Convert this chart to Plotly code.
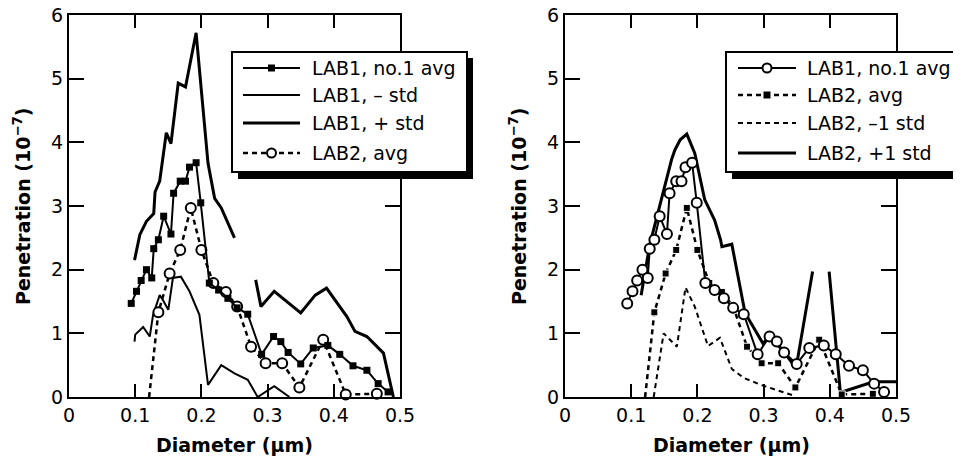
import plotly.graph_objects as go

# ---------------- data ----------------
lab1_avg_d = [0.094, 0.102, 0.109, 0.117, 0.125, 0.128, 0.135, 0.143, 0.154, 0.158, 0.168, 0.176,
              0.182, 0.192, 0.199, 0.212, 0.226, 0.240, 0.254, 0.270, 0.291, 0.309, 0.320, 0.331,
              0.350, 0.369, 0.391, 0.409, 0.429, 0.450, 0.467, 0.482]
lab1_avg_v = [1.47, 1.66, 1.83, 2.00, 1.87, 2.33, 2.47, 2.84, 2.56, 3.20, 3.39, 3.39,
              3.61, 3.68, 3.05, 1.79, 1.68, 1.55, 1.40, 1.30, 0.67, 0.95, 0.87, 0.70,
              0.52, 0.77, 0.81, 0.67, 0.49, 0.42, 0.21, 0.08]

lab2_avg_d = [0.121, 0.135, 0.152, 0.168, 0.184, 0.200, 0.218, 0.237, 0.254, 0.275, 0.297,
              0.322, 0.348, 0.384, 0.418, 0.465]
lab2_avg_v = [0.00, 1.33, 1.94, 2.31, 2.97, 2.31, 1.79, 1.65, 1.42, 0.79, 0.53,
              0.53, 0.15, 0.90, 0.04, 0.05]

lab1_minus_d = [0.099, 0.100, 0.112, 0.122, 0.127, 0.137, 0.142, 0.150, 0.157, 0.169, 0.182,
                0.197, 0.210, 0.230, 0.250, 0.270, 0.285, 0.310, 0.333]
lab1_minus_v = [0.87, 0.98, 1.10, 0.95, 1.29, 1.60, 1.52, 1.37, 1.87, 1.89, 1.66,
                1.29, 0.19, 0.50, 0.37, 0.27, 0.00, 0.17, 0.00]

lab1_plus_d = [0.099, 0.107, 0.117, 0.128, 0.130, 0.137, 0.147, 0.154, 0.165, 0.176, 0.192,
               0.210, 0.220, 0.230, 0.250, None, 0.282, 0.290, 0.310, 0.350, 0.372, 0.389,
               0.420, 0.432, 0.450, 0.475, 0.490]
lab1_plus_v = [2.15, 2.55, 2.76, 2.88, 3.22, 3.39, 4.15, 3.98, 4.93, 4.87, 5.72,
               3.67, 3.12, 2.97, 2.50, None, 1.84, 1.42, 1.66, 1.32, 1.60, 1.71,
               1.26, 1.03, 0.95, 0.69, 0.00]

lab2_minus_d = [0.134, 0.149, 0.169, 0.182, 0.196, 0.216, 0.234, 0.252, 0.270, 0.296, 0.346]
lab2_minus_v = [0.00, 1.00, 0.79, 1.72, 1.42, 0.80, 0.93, 0.44, 0.30, 0.19, 0.02]

lab2_plus_d = [0.115, 0.128, 0.161, 0.166, 0.174, 0.184, 0.196, 0.211, 0.226, 0.235, 0.237,
               0.252, 0.272, 0.299, 0.309, 0.330, 0.349, 0.374, None, 0.399, 0.416, 0.466, 0.500]
lab2_plus_v = [1.60, 2.39, 3.73, 3.88, 4.04, 4.13, 3.83, 3.10, 2.78, 2.47, 2.36,
               2.40, 1.32, 0.84, 0.95, 0.72, 0.45, 1.97, None, 1.97, 0.07, 0.24, 0.24]

x_tick_vals = [0, 0.1, 0.2, 0.3, 0.4, 0.5]
x_tick_text = ["0", "0.1", "0.2", "0.3", "0.4", "0.5"]
y_tick_vals = [0, 1, 2, 3, 4, 5, 6]
y_tick_text = ["0", "1", "2", "3", "4", "5", "6"]

left_legend = ["LAB1, no.1 avg", "LAB1, \u2013 std", "LAB1, + std", "LAB2, avg"]
right_legend = ["LAB1, no.1 avg", "LAB2, avg", "LAB2, \u20131 std", "LAB2, +1 std"]

x_title = "<b>Diameter (\u00b5m)</b>"
y_title = "<b>Penetration (10<sup>\u22127</sup>)</b>"

# ---------------- figure ----------------
OFF = 8                      # page body margin of the html page
W, H = 961 - OFF, 462 - OFF  # figure size
FONT = "DejaVu Sans"
DASH = "5px,4px"


def px(x):
    """page pixel x -> paper fraction"""
    return (x - OFF) / W


def py(y):
    """page pixel y -> paper fraction"""
    return 1 - (y - OFF) / H


fig = go.Figure()

# left panel
fig.add_trace(go.Scatter(x=lab1_minus_d, y=lab1_minus_v, mode="lines",
                         line=dict(color="black", width=2), xaxis="x", yaxis="y"))
fig.add_trace(go.Scatter(x=lab1_plus_d, y=lab1_plus_v, mode="lines",
                         line=dict(color="black", width=3), xaxis="x", yaxis="y"))
fig.add_trace(go.Scatter(x=lab2_avg_d, y=lab2_avg_v, mode="lines+markers", cliponaxis=False,
                         line=dict(color="black", width=2.5, dash=DASH),
                         marker=dict(symbol="circle", size=[0] + [10] * (len(lab2_avg_d) - 1),
                                     opacity=1, color="white", line=dict(color="black", width=2)),
                         xaxis="x", yaxis="y"))
fig.add_trace(go.Scatter(x=lab1_avg_d, y=lab1_avg_v, mode="lines+markers", cliponaxis=False,
                         line=dict(color="black", width=2),
                         marker=dict(symbol="square", size=7, color="black", opacity=1),
                         xaxis="x", yaxis="y"))

# right panel
fig.add_trace(go.Scatter(x=lab2_minus_d, y=lab2_minus_v, mode="lines",
                         line=dict(color="black", width=2, dash=DASH), xaxis="x2", yaxis="y2"))
fig.add_trace(go.Scatter(x=lab2_plus_d, y=lab2_plus_v, mode="lines",
                         line=dict(color="black", width=3), xaxis="x2", yaxis="y2"))
fig.add_trace(go.Scatter(x=lab2_avg_d, y=lab2_avg_v, mode="lines+markers", cliponaxis=False,
                         line=dict(color="black", width=2.5, dash=DASH),
                         marker=dict(symbol="square", size=[0] + [7] * (len(lab2_avg_d) - 1),
                                     opacity=1, color="black"),
                         xaxis="x2", yaxis="y2"))
fig.add_trace(go.Scatter(x=lab1_avg_d, y=lab1_avg_v, mode="lines+markers", cliponaxis=False,
                         line=dict(color="black", width=2),
                         marker=dict(symbol="circle", size=10, color="white", opacity=1,
                                     line=dict(color="black", width=2)),
                         xaxis="x2", yaxis="y2"))

xaxis_common = dict(range=[0, 0.5], tickvals=x_tick_vals, ticktext=x_tick_text,
                    ticks="inside", ticklen=13, tickwidth=2, tickcolor="black",
                    showline=True, linecolor="black", linewidth=2, mirror="ticks",
                    showgrid=False, zeroline=False, automargin=False,
                    ticklabeloverflow="allow",
                    tickfont=dict(family=FONT, size=19, color="black"))
yaxis_common = dict(range=[0, 6], tickvals=y_tick_vals, ticktext=y_tick_text,
                    ticks="inside", ticklen=15, tickwidth=2, tickcolor="black",
                    showline=True, linecolor="black", linewidth=2, mirror="ticks",
                    showgrid=False, zeroline=False, automargin=False,
                    ticklabeloverflow="allow",
                    tickfont=dict(family=FONT, size=19, color="black"))

ydom = [py(397), py(15)]
fig.update_layout(
    width=W, height=H, autosize=False,
    margin=dict(l=0, r=0, t=0, b=0, pad=0),
    paper_bgcolor="white", plot_bgcolor="white",
    showlegend=False,
    xaxis=dict(domain=[px(69), px(400)], anchor="y", **xaxis_common),
    yaxis=dict(domain=ydom, anchor="x", **yaxis_common),
    xaxis2=dict(domain=[px(565), px(896)], anchor="y2", **xaxis_common),
    yaxis2=dict(domain=ydom, anchor="x2", **yaxis_common),
)

shapes = []
annotations = []


def add_legend(box, sample_x, text_x, rows, labels, styles):
    x0, y0, x1, y1 = box
    shapes.append(dict(type="rect", xref="paper", yref="paper", layer="above",
                       x0=px(x0 + 6), x1=px(x1 + 6), y0=py(y1 + 7), y1=py(y0 + 6),
                       fillcolor="black", line=dict(width=0)))
    shapes.append(dict(type="rect", xref="paper", yref="paper", layer="above",
                       x0=px(x0), x1=px(x1), y0=py(y1), y1=py(y0),
                       fillcolor="white", line=dict(color="black", width=2)))
    sx0, sx1 = sample_x
    mx = (sx0 + sx1) / 2
    for yrow, lab, st in zip(rows, labels, styles):
        lw, dash, mk = st
        shapes.append(dict(type="line", xref="paper", yref="paper", layer="above",
                           x0=px(sx0), x1=px(sx1), y0=py(yrow), y1=py(yrow),
                           line=dict(color="black", width=lw, dash=dash)))
        if mk == "square":
            shapes.append(dict(type="rect", xref="paper", yref="paper", layer="above",
                               xsizemode="pixel", ysizemode="pixel",
                               xanchor=px(mx), yanchor=py(yrow),
                               x0=-3.5, x1=3.5, y0=-3.5, y1=3.5,
                               fillcolor="black", line=dict(width=0)))
        elif mk == "circle":
            shapes.append(dict(type="circle", xref="paper", yref="paper", layer="above",
                               xsizemode="pixel", ysizemode="pixel",
                               xanchor=px(mx), yanchor=py(yrow),
                               x0=-4.5, x1=4.5, y0=-4.5, y1=4.5,
                               fillcolor="white", line=dict(color="black", width=2)))
        annotations.append(dict(xref="paper", yref="paper", x=px(text_x), y=py(yrow),
                                xanchor="left", yanchor="middle", showarrow=False,
                                text=lab, font=dict(family=FONT, size=19, color="black")))


rows = [68, 95, 123, 153]
add_legend((232, 52, 467, 172), (243, 300), 310, rows, left_legend,
           [(2, "solid", "square"), (2, "solid", None), (3, "solid", None), (2.5, DASH, "circle")])
add_legend((726, 52, 959, 172), (738, 796), 805, rows, right_legend,
           [(2, "solid", "circle"), (2.5, DASH, "square"), (2, DASH, None), (3, "solid", None)])

# axis titles
for cx in (234, 731):
    annotations.append(dict(xref="paper", yref="paper", x=px(cx), y=py(445),
                            xanchor="center", yanchor="middle", showarrow=False,
                            text=x_title, font=dict(family=FONT, size=19, color="black")))
for cx in (22, 518):
    annotations.append(dict(xref="paper", yref="paper", x=px(cx), y=py(206),
                            xanchor="center", yanchor="middle", showarrow=False, textangle=-90,
                            text=y_title, font=dict(family=FONT, size=19, color="black")))

fig.update_layout(shapes=shapes, annotations=annotations)
fig.write_html("out.html")
